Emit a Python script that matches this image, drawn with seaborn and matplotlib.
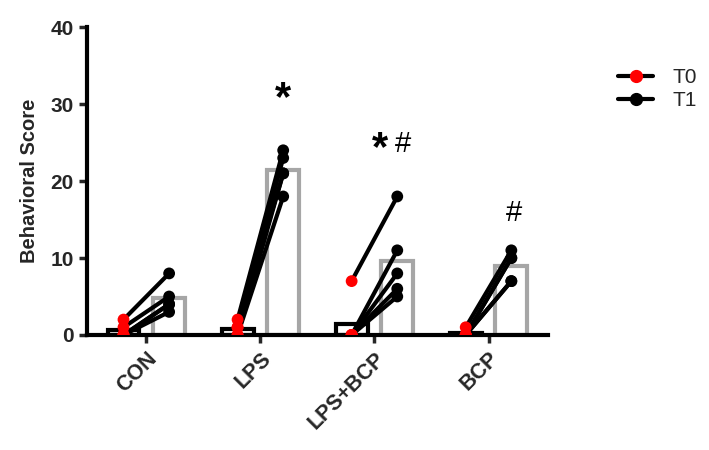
import seaborn as sns
import pandas as pd
import matplotlib.pyplot as plt
from matplotlib.lines import Line2D

sns.set_theme(style="ticks")
plt.rcParams['font.family'] = ['Liberation Sans', 'DejaVu Sans']

grupos = ['CON', 'LPS', 'LPS+BCP', 'BCP']
tempos = ['T0', 'T1']
t0 = {
    'CON': [2, 1, 0, 0, 0],
    'LPS': [2, 1, 1, 0, 0],
    'LPS+BCP': [7, 0, 0, 0, 0],
    'BCP': [1, 0, 0, 0, 0],
}
t1 = {
    'CON': [8, 5, 4, 4, 3],
    'LPS': [24, 23, 21, 21, 18],
    'LPS+BCP': [18, 11, 8, 6, 5],
    'BCP': [11, 10, 10, 7, 7],
}
# marcas de significância: (grupo, texto, y, deslocamento x)
marcas = [
    ('LPS', '*', 28.0, 0.2),
    ('LPS+BCP', '*', 21.5, 0.05),
    ('LPS+BCP', '#', 23.0, 0.25),
    ('BCP', '#', 14.0, 0.22),
]

linhas = []
for g in grupos:
    for s, (a, b) in enumerate(zip(t0[g], t1[g])):
        linhas.append({'Grupo': g, 'Tempo': 'T0', 'Score': a, 'Sujeito': s})
        linhas.append({'Grupo': g, 'Tempo': 'T1', 'Score': b, 'Sujeito': s})
df = pd.DataFrame(linhas)

fig = plt.figure(figsize=(7.09, 4.5), dpi=100)
ax = fig.add_axes([0.1227, 0.2556, 0.650, 0.684])

sns.barplot(
    data=df, x='Grupo', y='Score', hue='Tempo', order=grupos, hue_order=tempos,
    errorbar=None, fill=False, gap=0.3, linewidth=3,
    palette={'T0': 'black', 'T1': '#a6a6a6'}, legend=False, ax=ax
)

# linhas ligando T0 e T1 de cada sujeito
desloc = 0.2
for i, g in enumerate(grupos):
    for a, b in zip(t0[g], t1[g]):
        ax.plot([i - desloc, i + desloc], [a, b], color='black', lw=3,
                solid_capstyle='round', zorder=3)

sns.stripplot(
    data=df, x='Grupo', y='Score', hue='Tempo', order=grupos, hue_order=tempos,
    dodge=True, jitter=False, size=8.5, palette={'T0': 'red', 'T1': 'black'},
    legend=False, ax=ax, zorder=4
)

for g, txt, y, dx in marcas:
    i = grupos.index(g)
    if txt == '*':
        ax.text(i + dx, y, txt, ha='center', va='bottom', fontsize=30,
                fontweight='bold', color='black')
    else:
        ax.text(i + dx, y, txt, ha='center', va='bottom', fontsize=21,
                color='black')

ax.set_xlim(-0.52, 3.52)
ax.set_ylim(0, 40)
ax.set_yticks([0, 10, 20, 30, 40])
ax.set_xlabel('')
ax.set_ylabel('Behavioral Score', fontsize=14.5, fontweight='bold', labelpad=8)
ax.tick_params(axis='y', labelsize=15, width=2.5, length=6)
ax.tick_params(axis='x', labelsize=15.5, width=2.5, length=6)
for lab in ax.get_yticklabels():
    lab.set_fontweight('bold')
for lab in ax.get_xticklabels():
    lab.set_fontweight('bold')
    lab.set_rotation(45)
    lab.set_ha('right')
    lab.set_rotation_mode('anchor')

for lado in ['top', 'right']:
    ax.spines[lado].set_visible(False)
for lado in ['left', 'bottom']:
    ax.spines[lado].set_linewidth(3)
    ax.spines[lado].set_color('black')

alcas = [
    Line2D([], [], color='black', lw=3, marker='o', markersize=8.5,
           markerfacecolor='red', markeredgecolor='red'),
    Line2D([], [], color='black', lw=3, marker='o', markersize=8.5,
           markerfacecolor='black', markeredgecolor='black'),
]
fig.legend(alcas, tempos, loc='upper left', bbox_to_anchor=(0.845, 0.89),
           frameon=False, fontsize=15, handlelength=1.7, handletextpad=0.9,
           labelspacing=0.2)

plt.savefig('out.png', dpi=100)
